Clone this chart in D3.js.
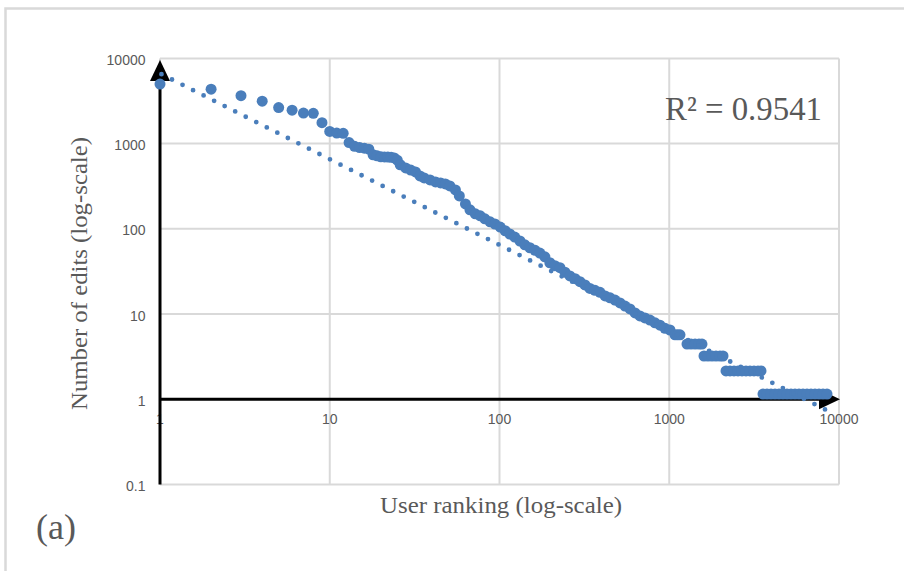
<!DOCTYPE html>
<html><head><meta charset="utf-8">
<script src="https://cdn.jsdelivr.net/npm/d3@7"></script>
<style>html,body{margin:0;padding:0;background:#fff;overflow:hidden}</style>
</head><body>
<svg id="chart" width="904" height="571"></svg>
<script>
// ---- data ----
const ranks = [1,2,3,4,5,6,7,8,9,10,11,12,13,14,15,16,17,18,19,20,21,22,23,24,25,26,
  28,30,32,34,36,39,42,45,48,51,55,58,63,67,72,77,82,88,94,101,
  108,115,123,132,141,151,162,173,185,198,212,227,243,260,279,298,319,341,365,391,
  419,448,479,513,549,587,629,672,719,770,824,882,944,1010,1081,1119,1157,
  1272,1343,1419,1497,1559,1602,1692,1786,1886,1991,2074,
  2160,2280,2407,2541,2683,2832,2990,3157,3334,3471,
  3567,3765,3975,4198,4431,4679,4939,5214,5505,5812,6137,6478,6840,7222,7624,8050,8499];
const edits = [5000,4350,3650,3150,2650,2470,2280,2270,1760,1390,1330,1320,1030,930,900,885,860,740,720,700,698,695,690,680,640,565,
  519,490,465,418,396,375,355,346,337,319,286,243,196,167,150,142,131,121,114,105,
  95,87,80,72,65,60,56,52,47,40,37,35,31,28,26,24,22,20,19,18,
  16.3,15.5,14.6,13.5,12.4,11.5,10.3,9.5,9.0,8.5,7.9,7.4,6.8,6.5,5.7,5.7,5.7,
  4.45,4.45,4.45,4.45,4.45,3.22,3.22,3.22,3.22,3.22,3.22,
  2.15,2.15,2.15,2.15,2.15,2.15,2.15,2.15,2.15,2.15,
  1.15,1.15,1.15,1.15,1.15,1.15,1.15,1.15,1.15,1.15,1.15,1.15,1.15,1.15,1.15,1.15,1.15];
const trendRanks = [1.02, 8800];
const trendEdits = [6530, 0.715];
const xTicks = [1, 10, 100, 1000, 10000];
const yTicks = [0.1, 1, 10, 100, 1000, 10000];
const xTickLabels = ["1", "10", "100", "1000", "10000"];
const yTickLabels = ["0.1", "1", "10", "100", "1000", "10000"];
const rSquaredLabel = "R\u00B2 = 0.9541";
const xTitle = "User ranking (log-scale)";
const yTitle = "Number of edits (log-scale)";
const panelLabel = "(a)";

// ---- drawing ----
const svg = d3.select("#chart");
const x = d3.scaleLog().domain([1, 10000]).range([160, 839]);
const y = d3.scaleLog().domain([0.1, 10000]).range([484.5, 58.4]);
const blue = "#4a7ebb", grid = "#d9d9d9", txt = "#595959";
const serif = "'Liberation Serif', 'Times New Roman', serif";
const sans = "'Liberation Sans', Arial, sans-serif";

// outer frame
svg.append("path").attr("d", "M5.5,571 L5.5,8.5 L904,8.5")
  .attr("fill", "none").attr("stroke", grid).attr("stroke-width", 2.5);

// gridlines
const g = svg.append("g");
g.selectAll("line.v").data(xTicks).join("line")
  .attr("x1", d => x(d)).attr("x2", d => x(d))
  .attr("y1", y(10000)).attr("y2", y(0.1))
  .attr("stroke", grid).attr("stroke-width", 2);
g.selectAll("line.h").data(yTicks).join("line")
  .attr("x1", x(1)).attr("x2", x(10000))
  .attr("y1", d => y(d)).attr("y2", d => y(d))
  .attr("stroke", grid).attr("stroke-width", 2);

// tick labels
svg.append("g").selectAll("text").data(yTicks).join("text")
  .attr("x", 145.5).attr("y", d => y(d) + 6.5)
  .attr("text-anchor", "end").attr("font-family", sans).attr("font-size", 14)
  .attr("fill", txt).text((d, i) => yTickLabels[i]);
svg.append("g").selectAll("text").data(xTicks).join("text")
  .attr("x", d => x(d)).attr("y", 424)
  .attr("text-anchor", "middle").attr("font-family", sans).attr("font-size", 14)
  .attr("fill", txt).text((d, i) => xTickLabels[i]);

// axes with arrows
const ax = svg.append("g");
const x0 = x(1), y1 = y(1);
ax.append("line").attr("x1", x0).attr("x2", x0).attr("y1", y(0.1)).attr("y2", y(10000) + 15)
  .attr("stroke", "#000").attr("stroke-width", 3);
ax.append("path").attr("d", `M${x0},${y(10000)+1.5} L${x0-10},${y(10000)+22.5} L${x0+10},${y(10000)+22.5} Z`)
  .attr("fill", "#000");
ax.append("line").attr("x1", x0).attr("x2", x(10000) - 15).attr("y1", y1).attr("y2", y1)
  .attr("stroke", "#000").attr("stroke-width", 3);
ax.append("path").attr("d", `M${x(10000)+1},${y1} L${x(10000)-20},${y1-10} L${x(10000)-20},${y1+10} Z`)
  .attr("fill", "#000");

// series
svg.append("g").selectAll("circle").data(ranks).join("circle")
  .attr("cx", d => x(d)).attr("cy", (d, i) => y(edits[i])).attr("r", 5.5)
  .attr("fill", blue);

// trendline (dotted)
svg.append("line")
  .attr("x1", x(trendRanks[0])).attr("y1", y(trendEdits[0]))
  .attr("x2", x(trendRanks[1])).attr("y2", y(trendEdits[1]))
  .attr("stroke", blue).attr("stroke-width", 4.8).attr("stroke-linecap", "round")
  .attr("stroke-dasharray", "0 11.8");

// texts
svg.append("text").attr("x", 665).attr("y", 120).attr("font-family", serif)
  .attr("font-size", 33).attr("fill", txt)
  .attr("textLength", 157).attr("lengthAdjust", "spacingAndGlyphs").text(rSquaredLabel);
svg.append("text").attr("x", 501).attr("y", 513).attr("text-anchor", "middle")
  .attr("font-family", serif).attr("font-size", 23).attr("fill", txt)
  .attr("textLength", 242).attr("lengthAdjust", "spacingAndGlyphs").text(xTitle);
svg.append("text").attr("transform", "translate(86.5,273.5) rotate(-90)")
  .attr("text-anchor", "middle").attr("font-family", serif).attr("font-size", 23).attr("fill", txt)
  .attr("textLength", 273).attr("lengthAdjust", "spacingAndGlyphs").text(yTitle);
svg.append("text").attr("x", 56).attr("y", 538.5).attr("text-anchor", "middle")
  .attr("font-family", serif).attr("font-size", 36).attr("fill", txt).text(panelLabel);
</script>
</body></html>
